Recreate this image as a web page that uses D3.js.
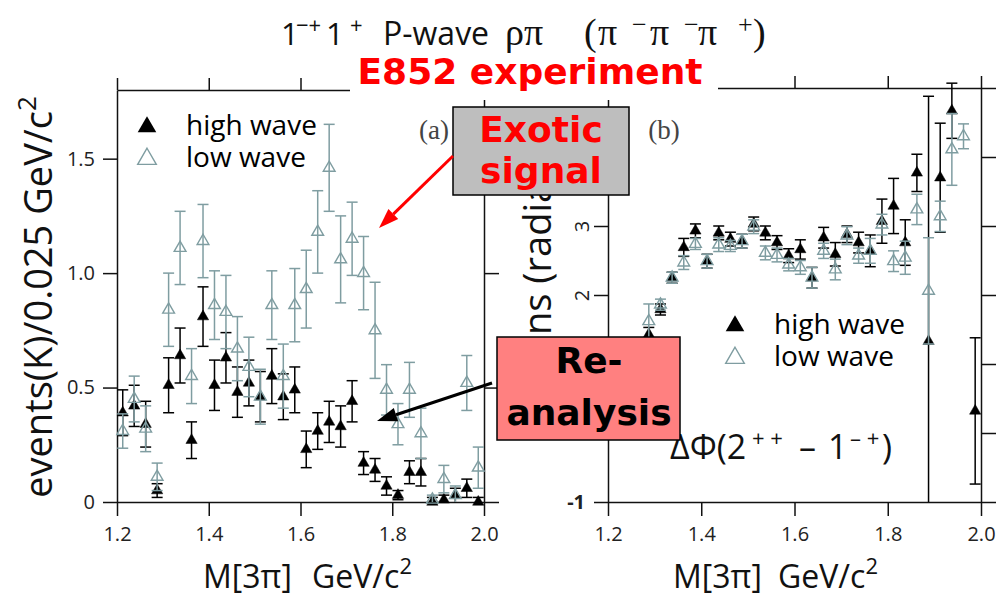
<!DOCTYPE html>
<html>
<head>
<meta charset="utf-8">
<script src="https://cdn.jsdelivr.net/npm/d3@7"></script>
<style>
  body { margin: 0; background: #fff; }
  svg { display: block; font-family: "Open Sans", "Noto Sans", sans-serif; }
</style>
</head>
<body>
<div id="chart"></div>
<script>
// mass bins (GeV/c^2), 25 MeV wide
var massBins = [1.2125, 1.2375, 1.2625, 1.2875, 1.3125, 1.3375, 1.3625, 1.3875,
  1.4125, 1.4375, 1.4625, 1.4875, 1.5125, 1.5375, 1.5625, 1.5875,
  1.6125, 1.6375, 1.6625, 1.6875, 1.7125, 1.7375, 1.7625, 1.7875,
  1.8125, 1.8375, 1.8625, 1.8875, 1.9125, 1.9375, 1.9625, 1.9875];

// (a) intensity, events(K)/0.025 GeV/c^2
var highYield = [0.39, 0.42, 0.34, 0.05, 0.51, 0.64, 0.27, 0.81, 0.51, 0.63, 0.48, 0.52, 0.46, 0.55, 0.46, 0.49,
  0.23, 0.31, 0.35, 0.33, 0.44, 0.17, 0.14, 0.07, 0.03, 0.13, 0.13, 0.00, 0.01, 0.03, 0.06, 0.00];
var highYieldErr = [0.10, 0.09, 0.10, 0.03, 0.12, 0.12, 0.08, 0.13, 0.11, 0.11, 0.11, 0.10, 0.11, 0.12, 0.10, 0.10,
  0.08, 0.08, 0.09, 0.09, 0.09, 0.05, 0.05, 0.04, 0.02, 0.05, 0.06, 0.02, 0.02, 0.03, 0.04, 0.02];
var lowYield = [0.31, 0.45, 0.32, 0.11, 0.84, 1.11, 0.55, 1.14, 0.86, 0.83, 0.67, 0.59, 0.46, 0.86, 0.55, 0.86,
  0.93, 1.18, 1.46, 1.06, 1.15, 1.00, 0.75, 0.49, 0.34, 0.49, 0.30, 0.01, 0.10, 0.03, 0.52, 0.15];
var lowYieldErr = [0.075, 0.10, 0.10, 0.06, 0.16, 0.16, 0.12, 0.16, 0.15, 0.16, 0.14, 0.13, 0.12, 0.15, 0.14, 0.16,
  0.17, 0.18, 0.19, 0.19, 0.16, 0.16, 0.21, 0.11, 0.09, 0.12, 0.11, 0.02, 0.06, 0.04, 0.12, 0.09];

// (b) phase difference (radians), null = not visible
var highPhase = [null, null, null, 1.43, 1.79, 2.25, 2.69, 2.93, 2.49, 2.90, 2.81, 2.78, 3.03, 2.90, 2.76, 2.57,
  2.66, 2.25, 2.83, 2.59, 2.88, 2.76, 2.64, 3.07, 3.29, 2.76, 3.77, 1.33, 3.70, 4.67, null, 0.32];
var highPhaseErr = [null, null, null, 0.10, 0.08, 0.08, 0.13, 0.10, 0.10, 0.10, 0.10, 0.10, 0.10, 0.10, 0.10, 0.10,
  0.14, 0.15, 0.15, 0.17, 0.12, 0.15, 0.23, 0.32, 0.40, 0.33, 0.27, 3.55, 0.79, 0.40, null, 1.06];
var lowPhase = [null, null, null, 1.62, 1.86, 2.25, 2.47, 2.74, 2.49, 2.73, 2.71, 2.78, 2.99, 2.61, 2.58, 2.44,
  2.40, 2.25, 2.64, 2.37, 2.86, 2.57, 2.64, 3.02, 2.49, 2.54, 3.24, 2.06, 3.14, 4.11, 4.30, null];
var lowPhaseErr = [null, null, null, 0.25, 0.08, 0.08, 0.10, 0.08, 0.10, 0.10, 0.08, 0.10, 0.10, 0.10, 0.10, 0.09,
  0.10, 0.15, 0.11, 0.15, 0.13, 0.11, 0.18, 0.15, 0.15, 0.24, 0.22, 0.77, 0.22, 0.52, 0.18, null];

// ticks
var massTicks = [1.2, 1.4, 1.6, 1.8, 2.0];
var massTickLabels = ["1.2", "1.4", "1.6", "1.8", "2.0"];
var yieldTicks = [0, 0.5, 1.0, 1.5];
var yieldTickLabels = ["0", "0.5", "1.0", "1.5"];
var phaseTicks = [-1, 0, 1, 2, 3, 4, 5];
var phaseTickLabels = ["-1", "0", "1", "2", "3", "4", "5"];

var lowColor = "#7f9da1";

var svg = d3.select("#chart").append("svg")
  .attr("width", 996)
  .attr("height", 597);

var xA = d3.scaleLinear().domain([1.2, 2.0]).range([117, 484]);
var yA = d3.scaleLinear().domain([0, 1.8]).range([502, 90]);
var xB = d3.scaleLinear().domain([1.2, 2.0]).range([608, 981]);
var yB = d3.scaleLinear().domain([-1, 5]).range([502, 88]);

function styleAxis(g, fontSize) {
  g.attr("font-family", "'Open Sans', sans-serif")
    .attr("font-size", fontSize)
    .attr("color", "#111");
  g.selectAll("path, line").attr("stroke-width", 1.5);
  g.selectAll("text").attr("fill", "#222");
}

function drawFrame(x, y, yTicks, yLabels) {
  var g = svg.append("g");
  var x0 = x.range()[0], x1 = x.range()[1];
  var y0 = y.range()[0], y1 = y.range()[1];

  g.append("g")
    .attr("transform", "translate(0," + y0 + ")")
    .call(d3.axisBottom(x).tickValues(massTicks)
      .tickFormat(function (d, i) { return massTickLabels[i]; })
      .tickSize(14).tickSizeOuter(0).tickPadding(11))
    .call(styleAxis, 20);

  g.append("g")
    .attr("transform", "translate(0," + y1 + ")")
    .call(d3.axisTop(x).tickValues(massTicks).tickFormat("").tickSize(12).tickSizeOuter(0))
    .call(styleAxis, 20);

  var left = g.append("g")
    .attr("transform", "translate(" + x0 + ",0)")
    .call(d3.axisLeft(y).tickValues(yTicks)
      .tickFormat(function (d, i) { return yLabels[i]; })
      .tickSize(14).tickSizeOuter(0).tickPadding(8))
    .call(styleAxis, 20);

  g.append("g")
    .attr("transform", "translate(" + x1 + ",0)")
    .call(d3.axisRight(y).tickValues(yTicks).tickFormat("").tickSize(15).tickSizeOuter(0))
    .call(styleAxis, 20);

  return left;
}

function drawSeries(x, y, values, errs, filled, color) {
  var g = svg.append("g");
  var floor = y.domain()[0];
  var pts = massBins.map(function (m, i) {
    return { m: m, v: values[i], e: errs[i] };
  }).filter(function (d) { return d.v !== null; });

  var cap = 5.5;
  pts.forEach(function (d) {
    var lo = Math.max(floor, d.v - d.e);
    var hi = d.v + d.e;
    var cx = x(d.m);
    g.append("line")
      .attr("x1", cx).attr("x2", cx)
      .attr("y1", y(lo)).attr("y2", y(hi))
      .attr("stroke", color).attr("stroke-width", 1.5);
    g.append("line")
      .attr("x1", cx - cap).attr("x2", cx + cap)
      .attr("y1", y(hi)).attr("y2", y(hi))
      .attr("stroke", color).attr("stroke-width", 1.5);
    if (d.v - d.e > floor) {
      g.append("line")
        .attr("x1", cx - cap).attr("x2", cx + cap)
        .attr("y1", y(lo)).attr("y2", y(lo))
        .attr("stroke", color).attr("stroke-width", 1.5);
    }
  });

  g.selectAll("path.pt")
    .data(pts)
    .enter()
    .append("path")
    .attr("class", "pt")
    .attr("d", d3.symbol().type(d3.symbolTriangle).size(filled ? 55 : 60))
    .attr("transform", function (d) { return "translate(" + x(d.m) + "," + y(d.v) + ")"; })
    .attr("fill", filled ? color : "#fff")
    .attr("fill-opacity", filled ? 1 : 0)
    .attr("stroke", color)
    .attr("stroke-width", filled ? 0.5 : 1.4);
}

function drawLegend(lx, ly) {
  var g = svg.append("g");
  g.append("path")
    .attr("d", d3.symbol().type(d3.symbolTriangle).size(150))
    .attr("transform", "translate(" + lx + "," + ly + ")")
    .attr("fill", "#000");
  g.append("path")
    .attr("d", d3.symbol().type(d3.symbolTriangle).size(150))
    .attr("transform", "translate(" + lx + "," + (ly + 32) + ")")
    .attr("fill", "none")
    .attr("stroke", lowColor)
    .attr("stroke-width", 1.4);
  g.append("text").attr("x", lx + 39).attr("y", ly + 8)
    .attr("font-size", 28).attr("fill", "#000").text("high wave");
  g.append("text").attr("x", lx + 39).attr("y", ly + 40)
    .attr("font-size", 28).attr("fill", "#000").text("low wave");
}

// ---- panel (a)
drawFrame(xA, yA, yieldTicks, yieldTickLabels);
drawSeries(xA, yA, highYield, highYieldErr, true, "#000");
drawSeries(xA, yA, lowYield, lowYieldErr, false, lowColor);
drawLegend(147, 127);

// ---- panel (b)
var leftB = drawFrame(xB, yB, phaseTicks, phaseTickLabels);
// phase tick labels are turned on their side, except -1
leftB.selectAll(".tick text")
  .each(function (d) {
    var t = d3.select(this);
    if (d >= 0) {
      t.attr("x", 0).attr("dy", "0.35em")
        .attr("text-anchor", "middle")
        .attr("transform", "translate(-26,0) rotate(-90)");
    } else {
      t.attr("font-weight", "bold").attr("x", -23);
    }
  });
drawSeries(xB, yB, highPhase, highPhaseErr, true, "#000");
drawSeries(xB, yB, lowPhase, lowPhaseErr, false, lowColor);
drawLegend(735, 326);

// panel letters
svg.append("text").attr("x", 434).attr("y", 139).attr("text-anchor", "middle")
  .attr("font-family", "'Liberation Serif', serif").attr("font-size", 27).attr("fill", "#444").text("(a)");
svg.append("text").attr("x", 664).attr("y", 139).attr("text-anchor", "middle")
  .attr("font-family", "'Liberation Serif', serif").attr("font-size", 27).attr("fill", "#444").text("(b)");

// delta phi label
var dphi = svg.append("text").attr("y", 459).attr("font-size", 34).attr("fill", "#111");
dphi.append("tspan").attr("x", 670).text("ΔΦ(2");
dphi.append("tspan").attr("x", 752).attr("y", 446).attr("font-size", 22).text("+ +");
dphi.append("tspan").attr("x", 799).attr("y", 459).text("–");
dphi.append("tspan").attr("x", 828).attr("y", 459).text("1");
dphi.append("tspan").attr("x", 850).attr("y", 446).attr("font-size", 22).text("– +");
dphi.append("tspan").attr("x", 882).attr("y", 459).text(")");

// axis titles
function massTitle(x0, x1) {
  var t = svg.append("text").attr("y", 588).attr("font-size", 32).attr("fill", "#111");
  t.append("tspan").attr("x", x0).text("M[3π]");
  t.append("tspan").attr("x", x1).text("GeV/c");
  t.append("tspan").attr("dy", -14).attr("font-size", 22).text("2");
}
massTitle(203, 312);
massTitle(673, 778);

var yTitle = svg.append("text")
  .attr("transform", "translate(52,297) rotate(-90)")
  .attr("text-anchor", "middle")
  .attr("font-size", 38).attr("fill", "#111");
yTitle.append("tspan").text("events(K)/0.025 GeV/c");
yTitle.append("tspan").attr("dy", -16).attr("font-size", 26).text("2");

svg.append("text")
  .attr("transform", "translate(551,438) rotate(-90)")
  .attr("font-size", 38).attr("fill", "#111")
  .text("Motions (radians)");

// title
var title = svg.append("text").attr("y", 45).attr("font-size", 31).attr("fill", "#111");
title.append("tspan").attr("x", 281).text("1");
title.append("tspan").attr("x", 296).attr("y", 33).attr("font-size", 22).text("−+");
title.append("tspan").attr("x", 326).attr("y", 45).text("1");
title.append("tspan").attr("x", 350).attr("y", 33).attr("font-size", 22).text("+");
title.append("tspan").attr("x", 383).attr("y", 45).attr("font-size", 32).text("P-wave");

var chan = svg.append("text").attr("y", 45)
  .attr("font-family", "'Liberation Serif', serif").attr("font-size", 38).attr("fill", "#111");
chan.append("tspan").attr("x", 505).text("ρπ");
chan.append("tspan").attr("x", 584).text("(");
chan.append("tspan").attr("x", 598).text("π");
chan.append("tspan").attr("x", 632).attr("y", 33).attr("font-size", 26).text("−");
chan.append("tspan").attr("x", 650).attr("y", 45).text("π");
chan.append("tspan").attr("x", 684).attr("y", 33).attr("font-size", 26).text("−");
chan.append("tspan").attr("x", 698).attr("y", 45).text("π");
chan.append("tspan").attr("x", 738).attr("y", 33).attr("font-size", 26).text("+");
chan.append("tspan").attr("x", 753).attr("y", 45).text(")");

// ---- annotations
svg.append("rect").attr("x", 350).attr("y", 53).attr("width", 368).attr("height", 47).attr("fill", "#fff");
svg.append("text").attr("x", 530).attr("y", 84).attr("text-anchor", "middle")
  .attr("font-family", "'DejaVu Sans', sans-serif").attr("font-weight", "bold")
  .attr("font-size", 36).attr("fill", "#ff0000").text("E852 experiment");

svg.append("rect").attr("x", 453).attr("y", 107).attr("width", 176).attr("height", 88)
  .attr("fill", "#bebebe").attr("stroke", "#000").attr("stroke-width", 1.5);
svg.append("text").attr("x", 541).attr("y", 142).attr("text-anchor", "middle")
  .attr("font-family", "'DejaVu Sans', sans-serif").attr("font-weight", "bold")
  .attr("font-size", 36).attr("fill", "#ff0000").text("Exotic");
svg.append("text").attr("x", 541).attr("y", 183).attr("text-anchor", "middle")
  .attr("font-family", "'DejaVu Sans', sans-serif").attr("font-weight", "bold")
  .attr("font-size", 36).attr("fill", "#ff0000").text("signal");

svg.append("rect").attr("x", 497).attr("y", 337).attr("width", 183).attr("height", 103)
  .attr("fill", "#ff8080").attr("stroke", "#000").attr("stroke-width", 1.5);
svg.append("text").attr("x", 589).attr("y", 373).attr("text-anchor", "middle")
  .attr("font-family", "'DejaVu Sans', sans-serif").attr("font-weight", "bold")
  .attr("font-size", 36).attr("fill", "#000").text("Re-");
svg.append("text").attr("x", 589).attr("y", 425).attr("text-anchor", "middle")
  .attr("font-family", "'DejaVu Sans', sans-serif").attr("font-weight", "bold")
  .attr("font-size", 36).attr("fill", "#000").text("analysis");

// arrows
function arrow(x1, y1, x2, y2, color) {
  var ang = Math.atan2(y2 - y1, x2 - x1);
  var len = 20, half = 7;
  var bx = x2 - len * Math.cos(ang), by = y2 - len * Math.sin(ang);
  svg.append("line")
    .attr("x1", x1).attr("y1", y1).attr("x2", bx).attr("y2", by)
    .attr("stroke", color).attr("stroke-width", 3);
  var pts = [
    [x2, y2],
    [bx + half * Math.sin(ang), by - half * Math.cos(ang)],
    [bx - half * Math.sin(ang), by + half * Math.cos(ang)]
  ];
  svg.append("path").attr("d", "M" + pts.join("L") + "Z").attr("fill", color);
}
arrow(453, 156, 379, 228, "#ff0000");
arrow(492, 383, 377, 421, "#000");
</script>
</body>
</html>
